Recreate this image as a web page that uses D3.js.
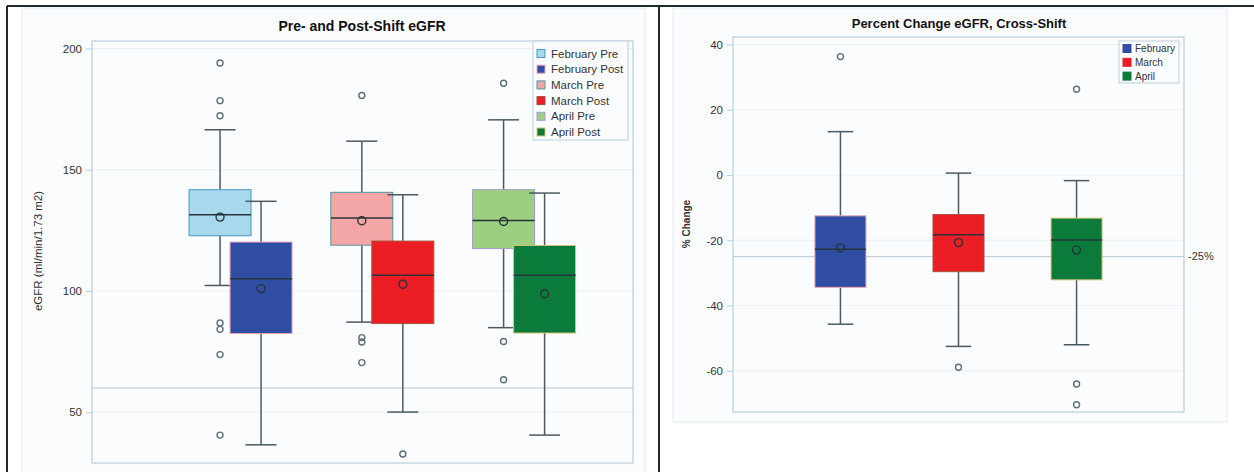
<!DOCTYPE html>
<html>
<head>
<meta charset="utf-8">
<script src="https://cdn.jsdelivr.net/npm/d3@7"></script>
<style>
  body { margin: 0; background: #ffffff; }
  svg { display: block; font-family: 'Liberation Sans', Arial, sans-serif; }
</style>
</head>
<body>
<svg width="1254" height="472"></svg>
<script>
'use strict';
// months and sub-groups
const months = ['February', 'March', 'April'];
const shifts = ['Pre', 'Post'];

// left panel: eGFR summaries, order Feb Pre, Feb Post, Mar Pre, Mar Post, Apr Pre, Apr Post
const egfrLow = [102.3, 36.6, 87.2, 50.1, 84.9, 40.6];
const egfrQ1 = [122.8, 82.5, 118.9, 86.6, 117.5, 82.7];
const egfrMedian = [131.5, 105.1, 130.1, 106.5, 129.1, 106.5];
const egfrQ3 = [141.8, 120.2, 140.7, 120.6, 141.8, 118.8];
const egfrHigh = [166.5, 137, 161.8, 139.7, 170.6, 140.4];
const egfrMean = [130.5, 101, 129, 102.8, 128.7, 98.9];
const egfrOutliers = [[194, 178.5, 172.3, 86.8, 84.2, 73.8, 40.6], [], [180.6, 80.8, 79, 70.5], [32.8], [185.7, 79.2, 63.4], []];
const egfrTicks = [50, 100, 150, 200];
const egfrRef = 60;

// right panel: percent change summaries, order Feb, Mar, Apr
const pctLow = [-45.7, -52.5, -52];
const pctQ1 = [-34.4, -29.6, -32.1];
const pctMedian = [-22.7, -18.3, -19.9];
const pctQ3 = [-12.5, -12.1, -13.2];
const pctHigh = [13.3, 0.6, -1.7];
const pctMean = [-22.3, -20.7, -23];
const pctOutliers = [[36.3], [-58.9], [26.3, -64, -70.4]];
const pctTicks = [-60, -40, -20, 0, 20, 40];
const pctRef = -25;

const svg = d3.select('svg');

// fills / outlines per series
const egfrFill = ['#a7d8eb', '#2f4ea3', '#f4a5a6', '#ec1d24', '#9ccf80', '#0a7b3b'];
const egfrEdge = ['#4f97bd', '#e7a3b3', '#4f98a6', '#a5503a', '#a79bd0', '#d8c27a'];
const pctFill = ['#2f4ea3', '#ec1d24', '#0a7b3b'];
const pctEdge = ['#e7a3b3', '#a5503a', '#d8c27a'];
const inkColor = '#4b5a62';

// page frame
svg.append('rect').attr('x', 22).attr('y', 8).attr('width', 623).attr('height', 470)
  .attr('fill', '#fbfcfd').attr('stroke', '#dfe9ef');
svg.append('rect').attr('x', 673).attr('y', 8).attr('width', 554).attr('height', 414)
  .attr('fill', '#fbfcfd').attr('stroke', '#dfe9ef');
svg.append('line').attr('x1', 7).attr('x2', 1254).attr('y1', 6).attr('y2', 6)
  .attr('stroke', '#1f2a30').attr('stroke-width', 2);
svg.append('line').attr('x1', 7).attr('x2', 7).attr('y1', 6).attr('y2', 472)
  .attr('stroke', '#1f2a30').attr('stroke-width', 2);
svg.append('line').attr('x1', 659).attr('x2', 659).attr('y1', 6).attr('y2', 472)
  .attr('stroke', '#1f2a30').attr('stroke-width', 2);

function drawPanel(p) {
  const g = svg.append('g').attr('transform', `translate(${p.left},${p.top})`);
  const w = p.width, h = p.height;

  const y = d3.scaleLinear().domain(p.domain).range([h, 0]);

  // grid
  g.append('g').selectAll('line').data(p.ticks).enter().append('line')
    .attr('x1', 0).attr('x2', w)
    .attr('y1', d => y(d)).attr('y2', d => y(d))
    .attr('stroke', '#eaf1f5');

  // reference line
  g.append('line').attr('x1', 0).attr('x2', w)
    .attr('y1', y(p.ref)).attr('y2', y(p.ref))
    .attr('stroke', '#b4c8d3').attr('stroke-width', 1);
  if (p.refLabel) {
    g.append('text').attr('x', w + 4).attr('y', y(p.ref)).attr('dy', '0.35em')
      .attr('font-size', 11).attr('fill', '#333').text(p.refLabel);
  }

  // axis (hyphen minus like the original)
  const axis = g.append('g')
    .call(d3.axisLeft(y).tickValues(p.ticks).tickFormat(d => String(d)).tickSize(6).tickPadding(4));
  axis.select('.domain').remove();
  axis.selectAll('.tick line').attr('stroke', '#b9ccd6');
  axis.selectAll('.tick text').attr('font-size', 11.5).attr('fill', '#333')
    .attr('font-family', 'Liberation Sans, Arial, sans-serif');

  // plot frame
  g.append('rect').attr('width', w).attr('height', h)
    .attr('fill', 'none').attr('stroke', '#a9c6d6');

  // y title
  g.append('text')
    .attr('transform', `translate(${p.yTitleX},${p.yTitleY}) rotate(-90)`)
    .attr('text-anchor', 'middle').attr('font-size', p.yTitleSize)
    .attr('font-weight', p.yTitleWeight).attr('fill', '#333')
    .text(p.yTitle);

  // title
  svg.append('text').attr('x', p.titleX).attr('y', p.titleY)
    .attr('text-anchor', 'middle').attr('font-size', p.titleSize).attr('font-weight', 'bold')
    .attr('fill', '#111').text(p.title);

  // boxes
  const boxes = g.append('g').selectAll('g').data(p.series).enter().append('g');
  boxes.each(function(d) {
    const b = d3.select(this);
    const cx = d.x;
    const half = p.boxWidth / 2;
    const cap = p.boxWidth / 4;
    b.append('line').attr('x1', cx).attr('x2', cx)
      .attr('y1', y(d.high)).attr('y2', y(d.q3)).attr('stroke', inkColor).attr('stroke-width', 1.5);
    b.append('line').attr('x1', cx).attr('x2', cx)
      .attr('y1', y(d.q1)).attr('y2', y(d.low)).attr('stroke', inkColor).attr('stroke-width', 1.5);
    b.append('line').attr('x1', cx - cap).attr('x2', cx + cap)
      .attr('y1', y(d.high)).attr('y2', y(d.high)).attr('stroke', inkColor).attr('stroke-width', 1.5);
    b.append('line').attr('x1', cx - cap).attr('x2', cx + cap)
      .attr('y1', y(d.low)).attr('y2', y(d.low)).attr('stroke', inkColor).attr('stroke-width', 1.5);
    b.append('rect').attr('x', cx - half).attr('width', p.boxWidth)
      .attr('y', y(d.q3)).attr('height', y(d.q1) - y(d.q3))
      .attr('fill', d.fill).attr('stroke', d.edge).attr('stroke-width', 1);
    b.append('line').attr('x1', cx - half).attr('x2', cx + half)
      .attr('y1', y(d.median)).attr('y2', y(d.median))
      .attr('stroke', '#27343a').attr('stroke-width', 1.5);
    b.append('circle').attr('cx', cx).attr('cy', y(d.mean)).attr('r', 4)
      .attr('fill', 'none').attr('stroke', '#27343a').attr('stroke-width', 1.4);
    b.selectAll('circle.out').data(d.outliers).enter().append('circle')
      .attr('class', 'out')
      .attr('cx', cx).attr('cy', v => y(v)).attr('r', 3)
      .attr('fill', 'none').attr('stroke', '#5c7078').attr('stroke-width', 1.4);
  });

  // legend
  const lg = svg.append('g').attr('transform', `translate(${p.legend.x},${p.legend.y})`);
  lg.append('rect').attr('width', p.legend.w).attr('height', p.legend.h)
    .attr('fill', '#fbfcfd').attr('stroke', '#b9d0dc');
  const items = lg.selectAll('g').data(p.legend.items).enter().append('g')
    .attr('transform', (d, i) => `translate(4,${p.legend.first + i * p.legend.step})`);
  items.append('rect').attr('x', 0).attr('y', -4).attr('width', 8).attr('height', 8)
    .attr('fill', d => d.fill).attr('stroke', d => d.edge);
  items.append('text').attr('x', p.legend.textX).attr('y', 0).attr('dy', '0.35em')
    .attr('font-size', p.legend.size).attr('fill', '#333').text(d => d.label);
}

// left panel layout
const egfrX = d3.scalePoint().domain(months).range([0, 541]).padding(0.908).align(0.577);
const shiftX = d3.scaleBand().domain(shifts).range([-41, 41]);
const egfrSeries = [];
months.forEach((m, mi) => {
  shifts.forEach((s, si) => {
    const i = mi * 2 + si;
    egfrSeries.push({
      label: `${m} ${s}`,
      x: egfrX(m) + shiftX(s) + shiftX.bandwidth() / 2,
      low: egfrLow[i], q1: egfrQ1[i], median: egfrMedian[i], q3: egfrQ3[i],
      high: egfrHigh[i], mean: egfrMean[i], outliers: egfrOutliers[i],
      fill: egfrFill[i], edge: egfrEdge[i], order: si
    });
  });
});
// draw pre boxes first, post boxes over them
egfrSeries.sort((a, b) => a.order - b.order);

drawPanel({
  left: 92, top: 41, width: 541, height: 422,
  domain: [29.1, 203.1], ticks: egfrTicks, ref: egfrRef,
  title: 'Pre- and Post-Shift eGFR', titleX: 362, titleY: 31, titleSize: 14,
  yTitle: 'eGFR (ml/min/1.73 m2)', yTitleX: -50, yTitleY: 210, yTitleSize: 11.5, yTitleWeight: 'normal',
  boxWidth: 62, series: egfrSeries,
  legend: {
    x: 533, y: 41, w: 95, h: 99, first: 12.5, step: 15.7, textX: 14, size: 11.5,
    items: months.flatMap((m, mi) => shifts.map((s, si) => ({
      label: `${m} ${s}`, fill: egfrFill[mi * 2 + si], edge: egfrEdge[mi * 2 + si]
    })))
  }
});

// right panel layout
const pctX = d3.scalePoint().domain(months).range([0, 451]).padding(0.91);
const pctSeries = months.map((m, i) => ({
  label: m, x: pctX(m),
  low: pctLow[i], q1: pctQ1[i], median: pctMedian[i], q3: pctQ3[i],
  high: pctHigh[i], mean: pctMean[i], outliers: pctOutliers[i],
  fill: pctFill[i], edge: pctEdge[i]
}));

drawPanel({
  left: 733, top: 37, width: 451, height: 375,
  domain: [-72.6, 42.3], ticks: pctTicks, ref: pctRef, refLabel: '-25%',
  title: 'Percent Change eGFR, Cross-Shift', titleX: 959, titleY: 28, titleSize: 13,
  yTitle: '% Change', yTitleX: -43, yTitleY: 187, yTitleSize: 10, yTitleWeight: 'bold',
  boxWidth: 51, series: pctSeries,
  legend: {
    x: 1119, y: 41, w: 60, h: 42, first: 7.5, step: 13.8, textX: 12, size: 10,
    items: months.map((m, i) => ({label: m, fill: pctFill[i], edge: pctFill[i]}))
  }
});
</script>
</body>
</html>
